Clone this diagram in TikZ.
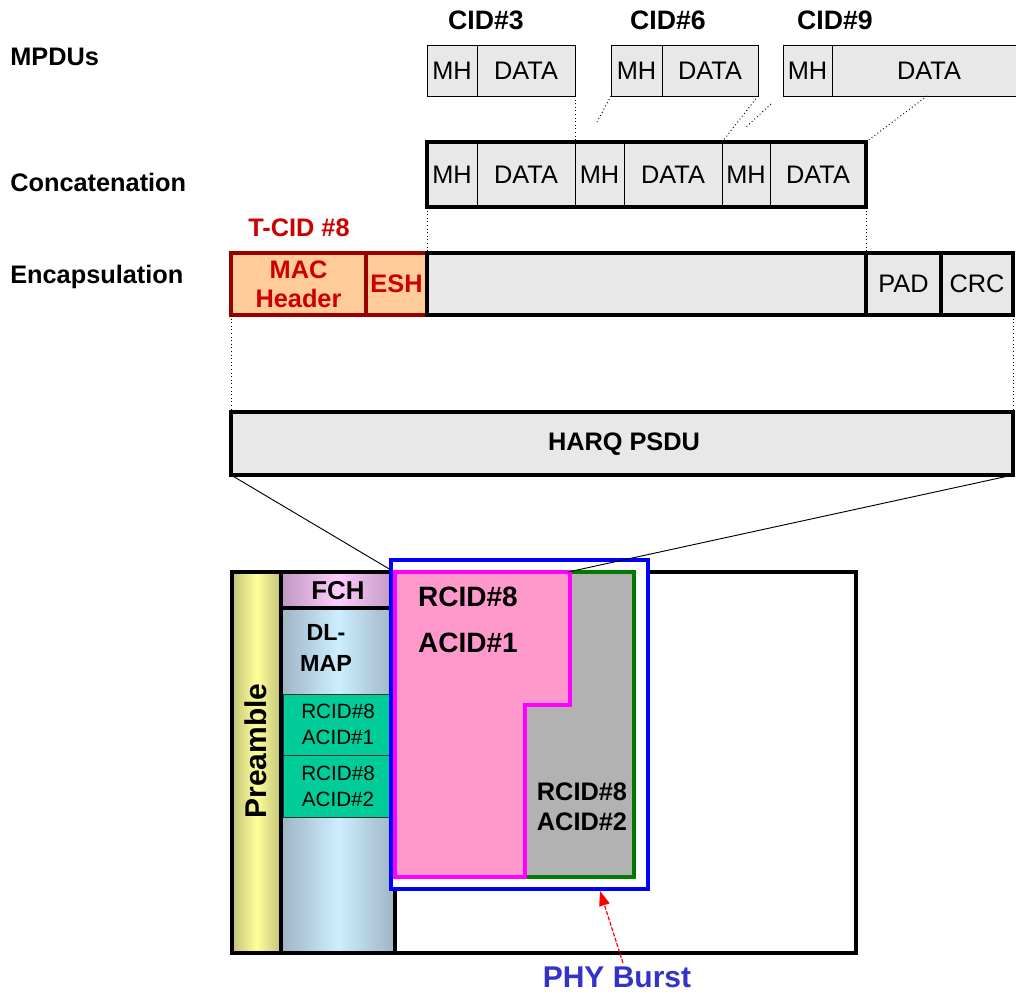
\documentclass[tikz,border=0pt]{standalone}
\usepackage{fontspec}
\setmainfont{Liberation Sans}
\usetikzlibrary{fit,arrows.meta}
\definecolor{cellgray}{HTML}{E8E8E8}
\definecolor{peach}{HTML}{FFCC99}
\definecolor{darkred}{HTML}{990000}
\definecolor{redtext}{HTML}{CC0000}
\definecolor{acidgreen}{HTML}{00CC99}
\definecolor{pinkfill}{HTML}{FF99CC}
\definecolor{magentaline}{HTML}{FF00FF}
\definecolor{grayfill}{HTML}{B2B2B2}
\definecolor{greenline}{HTML}{007A00}
\definecolor{burstblue}{HTML}{0000FF}
\definecolor{phyblue}{HTML}{3333CC}
\definecolor{preEdge}{HTML}{C2C27A}
\definecolor{preMid}{HTML}{FFFF99}
\definecolor{dlEdge}{HTML}{9FB4C4}
\definecolor{dlMid}{HTML}{CCEEFF}
\definecolor{fchEdge}{HTML}{BF98BF}
\definecolor{fchMid}{HTML}{FFCCFF}
\tikzset{
  box/.style={inner sep=0pt, outer sep=0pt},
  cell/.style={box, draw=black, line width=0.75pt, fill=cellgray},
  thickcell/.style={cell, line width=3pt},
  thickframe/.style={box, draw=black, line width=3pt},
  celltext/.style={inner sep=0pt, font=\fontsize{19}{22}\selectfont},
  mactext/.style={inner sep=0pt, text=redtext, align=center, font=\bfseries\fontsize{19}{22}\selectfont},
  greentext/.style={inner sep=0pt, align=center, font=\fontsize{15.5}{19.5}\selectfont},
  rowlabel/.style={anchor=west, inner sep=0pt, font=\bfseries\fontsize{19}{22}\selectfont},
  cidlabel/.style={inner sep=0pt, font=\bfseries\fontsize{20}{24}\selectfont},
  macbox/.style={box, draw=darkred, line width=3pt, fill=peach},
  greencell/.style={box, draw=black!80, line width=0.75pt, fill=acidgreen},
  dotconn/.style={draw=black, line width=0.7pt, dotted},
  solidconn/.style={draw=black, line width=0.7pt},
  boldtext/.style={inner sep=0pt, font=\bfseries\fontsize{19}{22}\selectfont},
}
\begin{document}
\begin{tikzpicture}[x=0.75pt,y=-0.75pt]
\useasboundingbox (0,0) rectangle (1016,992);

% ---- row labels
\node[rowlabel] (lmpdu) at (10,57) {MPDUs};
\node[rowlabel] (lconc) at (10,182) {Concatenation};
\node[rowlabel] (lenc) at (10,277) {Encapsulation};

% ---- MPDUs
\node[cidlabel] (cid3) at (486,20) {CID\#3};
\node[cidlabel] (cid6) at (668,20) {CID\#6};
\node[cidlabel] (cid9) at (835,20) {CID\#9};
\node[cell, fit={(427,45)(477,96)}, label={[celltext]center:MH}] (m1h) {};
\node[cell, fit={(477,45)(575,96)}, label={[celltext]center:DATA}] (m1d) {};
\node[cell, fit={(611,45)(662,96)}, label={[celltext]center:MH}] (m2h) {};
\node[cell, fit={(662,45)(758,96)}, label={[celltext]center:DATA}] (m2d) {};
\node[cell, fit={(783,45)(832,96)}, label={[celltext]center:MH}] (m3h) {};
\node[cell, fit={(832,45)(1026,96)}, label={[celltext]center:DATA}] (m3d) {};

% ---- Concatenation
\node[cell, fit={(427,142)(477,207)}, label={[celltext]center:MH}] (c1h) {};
\node[cell, fit={(477,142)(575,207)}, label={[celltext]center:DATA}] (c1d) {};
\node[cell, fit={(575,142)(624,207)}, label={[celltext]center:MH}] (c2h) {};
\node[cell, fit={(624,142)(722,207)}, label={[celltext]center:DATA}] (c2d) {};
\node[cell, fit={(722,142)(770,207)}, label={[celltext]center:MH}] (c3h) {};
\node[cell, fit={(770,142)(866,207)}, label={[celltext]center:DATA}] (c3d) {};
\node[thickframe, fit={(427,142)(866,207)}] (concat) {};

% dotted links MPDU -> concatenation
\coordinate (d2e) at (597,122);
\coordinate (d4s) at (771,104);
\coordinate (d4e) at (745,128);
\coordinate (d5s) at (927,96);
\path[dotconn] (m1d.south east) -- (c2h.north west);
\path[dotconn] (m2h.south west) -- (d2e);
\path[dotconn] (m2d.south east) -- (c3h.north west);
\path[dotconn] (d4s) -- (d4e);
\path[dotconn] (d5s) -- (concat.north east);

% ---- Encapsulation
\node[inner sep=0pt, text=redtext, font=\bfseries\fontsize{19}{22}\selectfont] (tcid) at (299,228) {T-CID \#8};
\node[macbox, fit={(231,253)(366,315)}, label={[mactext]center:MAC\\Header}] (mac) {};
\node[macbox, fit={(366,253)(427,315)}, label={[mactext]center:ESH}] (esh) {};
\node[thickcell, fit={(427,253)(866,315)}] (encbig) {};
\node[thickcell, fit={(866,253)(941,315)}, label={[celltext]center:PAD}] (pad) {};
\node[thickcell, fit={(941,253)(1013,315)}, label={[celltext]center:CRC}] (crc) {};
\path[dotconn] (concat.south west) -- (encbig.north west);
\path[dotconn] (concat.south east) -- (encbig.north east);

% ---- HARQ PSDU
\node[thickcell, fit={(231,412)(1013,475)}] (harq) {};
\node[boldtext] (harqlbl) at (624,444) {HARQ PSDU};
\path[dotconn] (mac.south west) -- (harq.north west);
\path[dotconn] (crc.south east) -- (harq.north east);

% ---- frame
\node[thickframe, fill=white, fit={(232,572)(856,953)}] (frame) {};
\node[thickframe, left color=preEdge, right color=preEdge, middle color=preMid, fit={(232,572)(281,953)}] (pre) {};
\node[rotate=90, inner sep=0pt, font=\bfseries\fontsize{22.5}{26}\selectfont] (prelbl) at (256,751) {Preamble};
\node[thickframe, left color=dlEdge, right color=dlEdge, middle color=dlMid, fit={(281,572)(395,953)}] (dl) {};
\node[thickframe, left color=fchEdge, right color=fchEdge, middle color=fchMid, fit={(281,572)(395,608)}] (fch) {};
\node[boldtext, font=\bfseries\fontsize{19.4}{22}\selectfont] (fchlbl) at (338,591) {FCH};
\node[inner sep=0pt, align=center, font=\bfseries\fontsize{17.5}{23}\selectfont] (dlmap) at (326,648) {DL-\\MAP};
\node[greencell, fit={(283,694)(393,755)}, label={[greentext]center:RCID\#8\\ACID\#1}] (g1) {};
\node[greencell, fit={(283,755)(393,817)}, label={[greentext]center:RCID\#8\\ACID\#2}] (g2) {};

% ---- PHY burst region
\node[box, draw=burstblue, fill=white, line width=3.5pt, fit={(391,560)(648,889)}] (burst) {};
\draw[fill=grayfill, draw=greenline, line width=3pt]
  (570,572) -- (634,572) -- (634,877) -- (525,877) -- (525,705) -- (570,705) -- cycle;
\draw[fill=pinkfill, draw=magentaline, line width=3pt]
  (395,572) -- (570,572) -- (570,705) -- (525,705) -- (525,877) -- (395,877) -- cycle;
\node[boldtext, font=\bfseries\fontsize{21}{24}\selectfont] (r1) at (468,597) {RCID\#8};
\node[boldtext, font=\bfseries\fontsize{21}{24}\selectfont] (a1) at (468,643) {ACID\#1};
\node[boldtext, align=center, font=\bfseries\fontsize{19}{22.5}\selectfont] (ra2) at (582,807) {RCID\#8\\ACID\#2};

% ---- HARQ to burst lines
\coordinate (btl) at (391,570);
\coordinate (ptr) at (568,572);
\path[solidconn] (harq.south west) -- (btl);
\path[solidconn] (harq.south east) -- (ptr);

% ---- PHY Burst label and arrow
\node[inner sep=0pt, text=phyblue, font=\bfseries\fontsize{22.5}{26}\selectfont] (phy) at (617,977) {PHY Burst};
\coordinate (arrtail) at (623,963);
\coordinate (arrtip) at (600,891);
\draw[red, line width=0.9pt, dash pattern=on 3pt off 1.2pt, -{Triangle[length=11pt,width=8pt]}] (arrtail) -- (arrtip);
\end{tikzpicture}
\end{document}
